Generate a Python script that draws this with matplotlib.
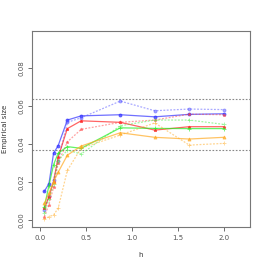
import matplotlib
matplotlib.use('Agg')
import matplotlib.pyplot as plt

# bandwidths
h = [0.05, 0.1, 0.15, 0.2, 0.3, 0.45, 0.875, 1.25, 1.625, 2.0]

# empirical size per method
blue_solid = [0.015, 0.019, 0.035, 0.039, 0.0525, 0.0547, 0.0553, 0.0542, 0.0555, 0.0558]
blue_dot = [0.005, 0.0125, 0.021, 0.031, 0.0513, 0.0537, 0.0625, 0.0574, 0.0583, 0.0580]
red_solid = [0.006, 0.012, 0.020, 0.033, 0.048, 0.0521, 0.0513, 0.0472, 0.0490, 0.0490]
red_dot = [0.0016, 0.008, 0.017, 0.030, 0.041, 0.0476, 0.0513, 0.0525, 0.0556, 0.0553]
green_solid = [0.0068, 0.018, 0.029, 0.035, 0.0385, 0.0376, 0.0484, 0.0481, 0.0480, 0.0480]
green_dot = [0.0035, 0.011, 0.019, 0.031, 0.0367, 0.0346, 0.0495, 0.0525, 0.0525, 0.0502]
orange_solid = [0.0086, 0.014, 0.020, 0.025, 0.034, 0.0388, 0.0458, 0.0434, 0.0425, 0.0434]
orange_dot = [0.0002, 0.0016, 0.0025, 0.006, 0.026, 0.0377, 0.0446, 0.0510, 0.0393, 0.0402]

# reference band around nominal 5%
band = [0.0365, 0.0635]

series = [
    (blue_solid, '#3333ff', '-', 'o'),
    (blue_dot, '#5555ff', (0, (1.5, 1.2)), 'o'),
    (red_solid, '#ff2222', '-', '*'),
    (red_dot, '#ff4444', (0, (1.5, 1.2)), '*'),
    (green_solid, '#22ee22', '-', '+'),
    (green_dot, '#44ee44', (0, (1.5, 1.2)), '+'),
    (orange_solid, '#ffaa22', '-', '^'),
    (orange_dot, '#ffaa22', (0, (1.5, 1.2)), '+'),
]

fig = plt.figure(figsize=(2.66, 2.66), dpi=100)
ax = fig.add_axes([0.119, 0.147, 0.822, 0.737])

for y in band:
    ax.axhline(y, color='#888888', linestyle=(0, (1.5, 1.5)), linewidth=0.8)

for vals, col, ls, mk in series:
    alpha = 0.7 if ls == '-' else 0.5
    ax.plot(h, vals, color=col, linestyle=ls, linewidth=0.9, alpha=alpha,
            marker=mk, markersize=2.2, markeredgewidth=0.6)

ax.set_xlim(-0.088, 2.288)
ax.set_ylim(-0.0038, 0.0995)
ax.set_xticks([0.0, 0.5, 1.0, 1.5, 2.0])
ax.set_xticklabels(['0.0', '0.5', '1.0', '1.5', '2.0'])
ax.set_yticks([0.0, 0.02, 0.04, 0.06, 0.08])
ax.set_yticklabels(['0.00', '0.02', '0.04', '0.06', '0.08'], rotation=90, va='center')

for s in ax.spines.values():
    s.set_color('#777777')
    s.set_linewidth(0.8)
ax.tick_params(colors='#555555', labelsize=5, length=3, width=0.6, pad=2.5)
ax.set_xlabel('h', fontsize=5, color='#333333', labelpad=8)
ax.set_ylabel('Empirical size', fontsize=5, color='#333333', labelpad=7)

plt.savefig('out.png', dpi=100)
plt.close()
